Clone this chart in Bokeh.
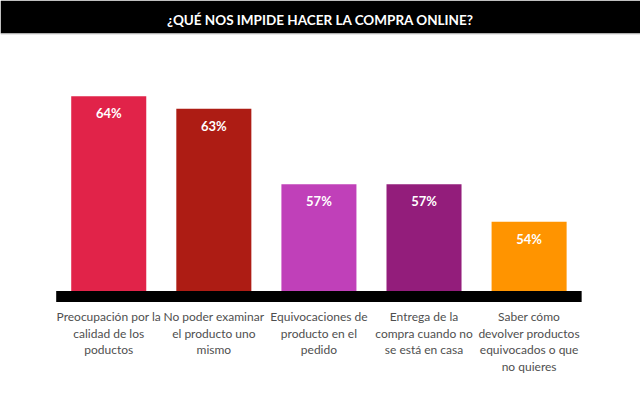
from bokeh.plotting import figure
from bokeh.models import Range1d, Span
from bokeh.core.properties import value
from bokeh.embed import file_html
from bokeh.resources import INLINE

# Survey data: reasons that keep people from buying online
categories = [
    "Preocupación por la\ncalidad de los\npoductos",
    "No poder examinar\nel producto uno\nmismo",
    "Equivocaciones de\nproducto en el\npedido",
    "Entrega de la\ncompra cuando no\nse está en casa",
    "Saber cómo\ndevolver productos\nequivocados o que\nno quieres",
]
percentages = [64, 63, 57, 57, 54]
bar_colors = ["#E12349", "#AD1C14", "#C040B9", "#931D7B", "#FF9400"]
title_text = "¿QUÉ NOS IMPIDE HACER LA COMPRA ONLINE?"

# value axis starts above zero so differences stand out
Y_FLOOR = 48.5
Y_START, Y_END = 38.9, 69.0
X_START, X_END = -1.03, 5.06

xs = list(range(len(categories)))
labels = [f"{v}%" for v in percentages]

p = figure(
    width=640, height=411,
    x_range=Range1d(X_START, X_END), y_range=Range1d(Y_START, Y_END),
    output_backend="svg", toolbar_location=None,
    min_border_left=0, min_border_right=0, min_border_bottom=0, min_border_top=33,
    title=title_text,
)
p.axis.visible = False
p.grid.visible = False
p.outline_line_color = None
p.background_fill_color = "white"
p.border_fill_color = "black"

p.title.align = "center"
p.title.vertical_align = "middle"
p.title.text_color = "white"
p.title.text_font = "Lato"
p.title.text_font_style = "bold"
p.title.text_font_size = "13.5px"

# thin grey rule under the title band
p.add_layout(Span(location=Y_END, dimension="width", line_color="#a0a0a0", line_width=1.5))

p.vbar(x=xs, top=percentages, bottom=Y_FLOOR, width=0.714, fill_color=bar_colors, line_color=None)

# heavy black base line under the bars
p.quad(left=[-0.5], right=[len(categories) - 0.5], top=[Y_FLOOR], bottom=[Y_FLOOR - 0.875],
       fill_color="black", line_color=None)

p.text(x=xs, y=percentages, text=labels, y_offset=17,
       text_align="center", text_baseline="middle",
       text_color="white", text_font=value("Lato"), text_font_style="bold",
       text_font_size="13px")

p.text(x=xs, y=[Y_FLOOR] * len(xs), text=categories, y_offset=18.5,
       text_align="center", text_baseline="top", text_line_height=1.1,
       text_color="#4f4f4f", text_font=value("Lato"), text_font_size="12px")

open("out.html", "w").write(file_html(p, INLINE))
